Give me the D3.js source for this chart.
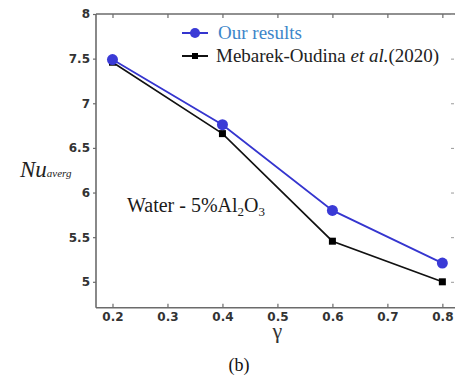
<!DOCTYPE html>
<html>
<head>
<meta charset="utf-8">
<script src="https://cdn.jsdelivr.net/npm/d3@7"></script>
<style>
  html, body { margin: 0; padding: 0; background: #fff; }
  svg { display: block; }
</style>
</head>
<body>
<svg id="chart" width="456" height="380"></svg>
<script>
// Average Nusselt number vs. gamma
const gammaValues = [0.2, 0.4, 0.6, 0.8];
const ourResults = [7.49, 6.76, 5.80, 5.21];
const mebarekOudina = [7.46, 6.66, 5.455, 5.0];
const xTicks = [0.2, 0.3, 0.4, 0.5, 0.6, 0.7, 0.8];
const yTicks = [5, 5.5, 6, 6.5, 7, 7.5, 8];

const svg = d3.select("#chart");
const plotLeft = 96, plotRight = 455, plotTop = 14, plotBottom = 307.7;

const x = d3.scaleLinear().domain([0.17, 0.823]).range([plotLeft, plotRight]);
const y = d3.scaleLinear().domain([4.71, 8]).range([plotBottom, plotTop]);

const axisColor = "#6b6b6b";
const tickFont = "'DejaVu Sans', Verdana, sans-serif";
const serif = "'Liberation Serif', 'Times New Roman', serif";

// Bottom axis: ticks point into the plot
const gx = svg.append("g").attr("transform", `translate(0,${plotBottom})`)
  .call(d3.axisBottom(x).tickValues(xTicks).tickSize(-4).tickPadding(5)
    .tickFormat(d3.format(".1f")));
gx.select(".domain").attr("stroke", axisColor).attr("stroke-width", 1.6)
  .attr("d", `M${plotLeft},0H${plotRight}`);
gx.selectAll(".tick line").attr("stroke", axisColor).attr("stroke-width", 1.2);
gx.selectAll(".tick text").attr("fill", "#333").style("font-family", tickFont)
  .style("font-weight", "bold").style("font-size", "12px");

// Top frame line with inward ticks
const gt = svg.append("g").attr("transform", `translate(0,${plotTop})`)
  .call(d3.axisTop(x).tickValues(xTicks).tickSize(-4).tickFormat(""));
gt.select(".domain").attr("stroke", axisColor).attr("stroke-width", 1.6)
  .attr("d", `M${plotLeft},0H${plotRight}`);
gt.selectAll(".tick line").attr("stroke", axisColor).attr("stroke-width", 1.2);

// Left axis
const gy = svg.append("g").attr("transform", `translate(${plotLeft},0)`)
  .call(d3.axisLeft(y).tickValues(yTicks).tickSize(3).tickPadding(3)
    .tickFormat(d => d3.format("~g")(d)));
gy.select(".domain").attr("stroke", axisColor).attr("stroke-width", 1.6)
  .attr("d", `M0,${plotTop}V${plotBottom}`);
gy.selectAll(".tick line").attr("stroke", axisColor).attr("stroke-width", 1.2);
gy.selectAll(".tick text").attr("fill", "#333").style("font-family", tickFont)
  .style("font-weight", "bold").style("font-size", "12px");

// Right side: only faint tick marks
const gr = svg.append("g").attr("transform", `translate(${plotRight - 1},0)`)
  .call(d3.axisRight(y).tickValues(yTicks).tickSize(-3).tickFormat(""));
gr.select(".domain").remove();
gr.selectAll(".tick line").attr("stroke", "#9a9a9a").attr("stroke-width", 1);

// Series
const line = d3.line().x(d => x(d[0])).y(d => y(d[1]));
const blue = "#3535cf";
const ourPts = gammaValues.map((g, i) => [g, ourResults[i]]);
const refPts = gammaValues.map((g, i) => [g, mebarekOudina[i]]);

svg.append("path").datum(refPts).attr("d", line)
  .attr("fill", "none").attr("stroke", "#111").attr("stroke-width", 1.6);
svg.selectAll(".sq").data(refPts).enter().append("rect")
  .attr("x", d => x(d[0]) - 3.5).attr("y", d => y(d[1]) - 3.5)
  .attr("width", 7).attr("height", 7).attr("fill", "#000");

svg.append("path").datum(ourPts).attr("d", line)
  .attr("fill", "none").attr("stroke", blue).attr("stroke-width", 1.8);
svg.selectAll(".dot").data(ourPts).enter().append("circle")
  .attr("cx", d => x(d[0])).attr("cy", d => y(d[1])).attr("r", 5.5)
  .attr("fill", "#3a3ad6");

// Legend
const lg = svg.append("g");
lg.append("line").attr("x1", 182).attr("x2", 208).attr("y1", 33).attr("y2", 33)
  .attr("stroke", blue).attr("stroke-width", 2);
lg.append("circle").attr("cx", 195).attr("cy", 33).attr("r", 5).attr("fill", "#3a3ad6");
lg.append("text").attr("x", 218).attr("y", 39)
  .style("font-family", serif).style("font-size", "19px").attr("fill", "#3d85c9")
  .text("Our results");
lg.append("line").attr("x1", 182).attr("x2", 208).attr("y1", 56).attr("y2", 56)
  .attr("stroke", "#111").attr("stroke-width", 2);
lg.append("rect").attr("x", 192).attr("y", 53).attr("width", 6).attr("height", 6).attr("fill", "#000");
const t2 = lg.append("text").attr("x", 216).attr("y", 62)
  .style("font-family", serif).style("font-size", "19px").attr("fill", "#222");
t2.append("tspan").text("Mebarek-Oudina ");
t2.append("tspan").style("font-style", "italic").text("et al.");
t2.append("tspan").text("(2020)");

// Y axis title: Nu with subscript
const yt = svg.append("text").attr("x", 20).attr("y", 177)
  .style("font-family", serif).style("font-style", "italic").attr("fill", "#222");
yt.append("tspan").style("font-size", "23px").text("Nu");
yt.append("tspan").style("font-size", "11px").text("averg");

// Annotation
const an = svg.append("text").attr("x", 127).attr("y", 212)
  .style("font-family", serif).style("font-size", "20px").attr("fill", "#1a1a1a");
an.append("tspan").text("Water - 5%Al");
an.append("tspan").attr("dy", 4).style("font-size", "13px").text("2");
an.append("tspan").attr("dy", -4).text("O");
an.append("tspan").attr("dy", 4).style("font-size", "13px").text("3");

// X axis title
svg.append("text").attr("x", x(0.5)).attr("y", 338).attr("text-anchor", "middle")
  .style("font-family", serif).style("font-size", "22px").attr("fill", "#333")
  .text("γ");

// Panel label
svg.append("text").attr("x", 239).attr("y", 371).attr("text-anchor", "middle")
  .style("font-family", serif).style("font-size", "18px").attr("fill", "#111")
  .text("(b)");
</script>
</body>
</html>
